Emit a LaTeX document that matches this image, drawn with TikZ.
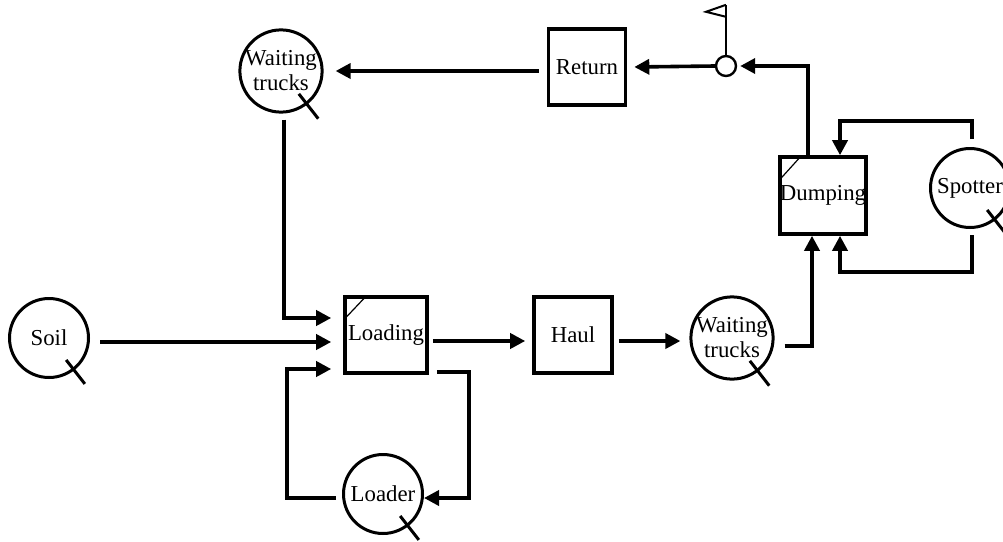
\documentclass[tikz,border=0pt]{standalone}
\usepackage{fontspec}
\setmainfont{Liberation Serif}
\usetikzlibrary{arrows.meta,calc}
\begin{document}
\begin{tikzpicture}[x=1pt,y=-1pt,
 arr/.style={line width=3.6pt,-{Triangle[length=15pt,width=15pt]}},
 res/.style={circle,draw,line width=3pt,minimum size=79pt,inner sep=0pt,align=center,font=\fontsize{22.8}{25}\selectfont},
 act/.style={rectangle,draw,line width=3.6pt,inner sep=0pt,font=\fontsize{22.8}{25}\selectfont},
 tail/.style={line width=3pt},
 thin/.style={line width=1.2pt},
 ]
\useasboundingbox (0,0) rectangle (1003,541);
\fill[white] (0,0) rectangle (1003,541);
% resources (circles)
\node[res] (soil) at (49,338) {Soil};
\node[res] (wt1) at (281,71) {Waiting\\trucks};
\node[res] (wt2) at (732,338) {Waiting\\trucks};
\node[res] (loader) at (383,494) {Loader};
\node[res] (spot) at (970,188) {Spotter};
% activities (boxes)
\node[act,minimum width=82pt,minimum height=76pt] (load) at (386,335) {Loading};
\node[act,minimum width=78pt,minimum height=76pt] (haul) at (573,335) {Haul};
\node[act,minimum width=77pt,minimum height=76pt] (ret) at (587,67) {Return};
\node[act,minimum width=80pt,minimum height=77pt] (dump) at (823,195.5) {Dumping};
% junction with flag
\node[circle,draw,line width=2.4pt,minimum size=20pt,inner sep=0pt] (junc) at (726,66) {};
\draw[line width=2pt] (junc.north) -- ++(0,-50) coordinate (flagtop);
\draw[line width=2pt,line join=miter] (flagtop) -- ++(-20,7) -- ++(20,5);
% tails of resource circles
\foreach \n in {soil,wt1,wt2,loader,spot}
  \draw[tail] ($(\n.center)!0.68!(\n.-52)$) -- ($(\n.center)!1.42!(\n.-52)$);
% diagonals in boxes
\draw[thin] ($(load.north west)+(3,22)$) -- ($(load.north west)+(21,3)$);
\draw[thin] ($(dump.north west)+(2,24)$) -- ($(dump.north west)+(21,3)$);
% connectors
\draw[arr] ([xshift=10pt,yshift=-4pt]soil.east) -- ([xshift=-12pt,yshift=-7pt]load.west);
\draw[arr] ([xshift=3pt,yshift=-6pt]wt1.south) |- ([xshift=-12pt,yshift=17pt]load.west);
\draw[arr] ([xshift=-6pt,yshift=-4pt]loader.west) -| ($(load.west)+(-56,34)$) -- ([xshift=-12pt,yshift=-34pt]load.west);
\draw[arr] ([xshift=8pt,yshift=-37pt]load.east) -- ++(32,0) |- ([yshift=-4pt]loader.east);
\draw[arr] ([xshift=4pt,yshift=-6pt]load.east) -- ([xshift=-7pt,yshift=-6pt]haul.west);
\draw[arr] ([xshift=5pt,yshift=-6pt]haul.east) -- ([xshift=-9pt,yshift=-3pt]wt2.west);
\draw[arr] ([xshift=10pt,yshift=-8pt]wt2.east) -| ([xshift=-11pt]dump.south);
\draw[arr] ([xshift=2pt,yshift=-6pt]spot.south) -- ++(0,37) -| ([xshift=17pt]dump.south);
\draw[arr] ([xshift=2pt,yshift=8pt]spot.north) -- ++(0,-18) -| ([xshift=17pt]dump.north);
\draw[arr] ([xshift=-15pt]dump.north) |- ([xshift=3pt]junc.east);
\draw[arr] (junc.west) -- ([xshift=7pt]ret.east);
\draw[arr] ([xshift=-8pt,yshift=-4pt]ret.west) -- ([xshift=12pt]wt1.east);
\end{tikzpicture}
\end{document}
